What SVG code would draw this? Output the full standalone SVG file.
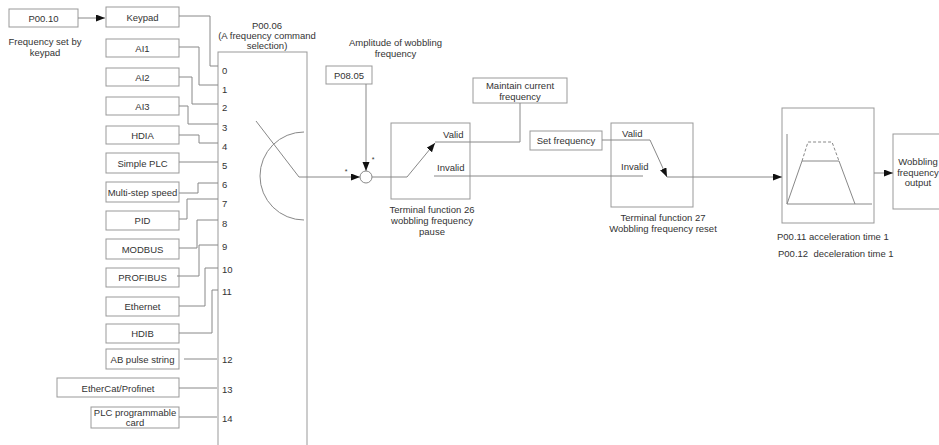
<svg xmlns="http://www.w3.org/2000/svg" width="939" height="445" viewBox="0 0 939 445">
<style>
.bx{fill:#fff;stroke:#999;stroke-width:1}
.bn{fill:none;stroke:#999;stroke-width:1}
.ln{fill:none;stroke:#888;stroke-width:1}
.t{font-family:"Liberation Sans",Arial,sans-serif;font-size:9.5px;fill:#333}
.c{text-anchor:middle}
.s{font-family:"Liberation Sans",Arial,sans-serif;font-size:7px;fill:#333}
</style>
<defs>
<marker id="ar" markerUnits="userSpaceOnUse" markerWidth="10" markerHeight="8" refX="9" refY="3.5" orient="auto">
<path d="M0,0 L9,3.5 L0,7 z" fill="#111"/>
</marker>
</defs>
<rect width="939" height="445" fill="#fff"/>

<g id="p0010"><rect class="bx" x="9" y="9" width="69" height="18"/><text class="t c" x="43.5" y="21.5">P00.10</text>
<text class="t c" x="45" y="45">Frequency set by</text><text class="t c" x="45" y="56">keypad</text></g>
<g id="keypad"><rect class="bx" x="106" y="7" width="73" height="20"/><text class="t c" x="142.5" y="20.5">Keypad</text></g>
<g id="ai1"><rect class="bx" x="106" y="39" width="73" height="18"/><text class="t c" x="142.5" y="51.5">AI1</text></g>
<g id="ai2"><rect class="bx" x="106" y="68" width="73" height="18"/><text class="t c" x="142.5" y="80.5">AI2</text></g>
<g id="ai3"><rect class="bx" x="106" y="97" width="73" height="18"/><text class="t c" x="142.5" y="109.5">AI3</text></g>
<g id="hdia"><rect class="bx" x="106" y="126" width="73" height="18"/><text class="t c" x="142.5" y="138.5">HDIA</text></g>
<g id="simpleplc"><rect class="bx" x="106" y="153" width="73" height="20"/><text class="t c" x="142.5" y="166.5">Simple PLC</text></g>
<g id="multistep"><rect class="bx" x="106" y="182" width="73" height="20"/><text class="t c" x="142.5" y="195.5">Multi-step speed</text></g>
<g id="pid"><rect class="bx" x="106" y="211" width="73" height="19"/><text class="t c" x="142.5" y="223.5">PID</text></g>
<g id="modbus"><rect class="bx" x="106" y="239" width="73" height="20"/><text class="t c" x="142.5" y="252.5">MODBUS</text></g>
<g id="profibus"><rect class="bx" x="106" y="268" width="73" height="19"/><text class="t c" x="142.5" y="280.5">PROFIBUS</text></g>
<g id="ethernet"><rect class="bx" x="106" y="297" width="73" height="19"/><text class="t c" x="142.5" y="309.5">Ethernet</text></g>
<g id="hdib"><rect class="bx" x="106" y="324" width="73" height="19"/><text class="t c" x="142.5" y="336.5">HDIB</text></g>
<g id="abpulse"><rect class="bx" x="106" y="349" width="73" height="20"/><text class="t c" x="142.5" y="362.5">AB pulse string</text></g>
<g id="ethercat"><rect class="bx" x="57" y="378" width="122" height="19"/><text class="t c" x="118" y="391.5">EtherCat/Profinet</text></g>
<g id="plccard"><rect class="bx" x="91" y="407" width="88" height="21"/><text class="t c" x="135" y="415.5">PLC programmable</text><text class="t c" x="135" y="426">card</text></g>

<g id="p0006">
<rect class="bn" x="218" y="52" width="89" height="420"/>
<text class="t c" x="267" y="28.5">P00.06</text>
<text class="t c" x="267" y="38.5">(A frequency command</text>
<text class="t c" x="267" y="48.5">selection)</text>
<text class="t" x="222" y="73.5">0</text>
<text class="t" x="222" y="92.5">1</text>
<text class="t" x="222" y="110.5">2</text>
<text class="t" x="222" y="130.5">3</text>
<text class="t" x="222" y="149.5">4</text>
<text class="t" x="222" y="168.5">5</text>
<text class="t" x="222" y="187.5">6</text>
<text class="t" x="222" y="206.5">7</text>
<text class="t" x="222" y="226.5">8</text>
<text class="t" x="222" y="249.5">9</text>
<text class="t" x="222" y="272.5">10</text>
<text class="t" x="222" y="294.5">11</text>
<text class="t" x="222" y="362.5">12</text>
<text class="t" x="222" y="392.5">13</text>
<text class="t" x="222" y="421.5">14</text>
</g>

<g id="p0805"><text class="t c" x="395.5" y="46">Amplitude of wobbling</text><text class="t c" x="395.5" y="57">frequency</text>
<rect class="bx" x="326" y="66" width="46" height="18"/><text class="t c" x="349" y="78.5">P08.05</text></g>

<g id="maintain"><rect class="bx" x="473" y="78" width="94" height="25"/><text class="t c" x="520" y="88.5">Maintain current</text><text class="t c" x="520" y="99.5">frequency</text></g>

<g id="tf26"><rect class="bn" x="391" y="123" width="79" height="76"/>
<text class="t" x="443" y="137.5">Valid</text><text class="t" x="437" y="170.5">Invalid</text>
<text class="t c" x="432" y="213">Terminal function 26</text><text class="t c" x="432" y="224">wobbling frequency</text><text class="t c" x="432" y="235">pause</text></g>

<g id="setfreq"><rect class="bx" x="530" y="131" width="72" height="19"/><text class="t c" x="566" y="143.5">Set frequency</text></g>

<g id="tf27"><rect class="bn" x="611" y="123" width="82" height="84"/>
<text class="t" x="622" y="136.5">Valid</text><text class="t" x="621" y="169.5">Invalid</text>
<text class="t c" x="663" y="220.5">Terminal function 27</text><text class="t c" x="663" y="231.5">Wobbling frequency reset</text></g>

<g id="ramp"><rect class="bx" x="782" y="108" width="92" height="115"/>
<path class="ln" d="M787,134 V204 H872"/>
<path class="ln" d="M787,204 L802,161 H839 L855,204"/>
<path class="ln" stroke-dasharray="3,2" d="M802,161 L808,142 H832 L839,161"/>
<text class="t" x="777" y="239.5">P00.11 acceleration time 1</text>
<text class="t" x="778" y="256.5">P00.12&#160; deceleration time 1</text></g>

<g id="output"><rect class="bx" x="893" y="134" width="60" height="75"/>
<text class="t c" x="918" y="165">Wobbling</text><text class="t c" x="918" y="175.5">frequency</text><text class="t c" x="918" y="186">output</text></g>

<g id="connectors">
<path class="ln" d="M78,18 H105" marker-end="url(#ar)"/>
<path class="ln" d="M179,16 H210 V66 H218"/>
<path class="ln" d="M179,47 H199 V85 H218"/>
<path class="ln" d="M179,77 H192 V104 H218"/>
<path class="ln" d="M179,106 H188 V124 H218"/>
<path class="ln" d="M179,135 H199 V143 H218"/>
<path class="ln" d="M179,162 H218"/>
<path class="ln" d="M179,193 H198 V183 H218"/>
<path class="ln" d="M179,219 H187 V199 H218"/>
<path class="ln" d="M179,248 H197 V220 H218"/>
<path class="ln" d="M177,276 H199 V245 H218"/>
<path class="ln" d="M179,306 H205 V268 H218"/>
<path class="ln" d="M179,333 H212 V290 H218"/>
<path class="ln" d="M184,359 H217"/>
<path class="ln" d="M179,388 H217"/>
<path class="ln" d="M179,417 H217"/>
<path class="ln" d="M304,132 A44,44 0 0 0 304,220"/>
<path class="ln" d="M256,121 L299,177"/>
<path class="ln" d="M299,177 H360" marker-end="url(#ar)"/>
<path class="ln" d="M366,84 V171" marker-end="url(#ar)"/>
<path class="ln" d="M372,177 H407 L435,143" marker-end="url(#ar)"/>
<path class="ln" d="M435,142 H520 V103"/>
<path class="ln" d="M434,176 H643"/>
<path class="ln" d="M602,140 H650 L667,177" marker-end="url(#ar)"/>
<path class="ln" d="M667,177 H782" marker-end="url(#ar)"/>
<path class="ln" d="M874,173 H893" marker-end="url(#ar)"/>
</g>

<g id="sum"><circle cx="366" cy="177" r="6" fill="#fff" stroke="#888"/>
<text class="s c" x="346" y="174">*</text><text class="s c" x="373" y="162">*</text></g>
</svg>
